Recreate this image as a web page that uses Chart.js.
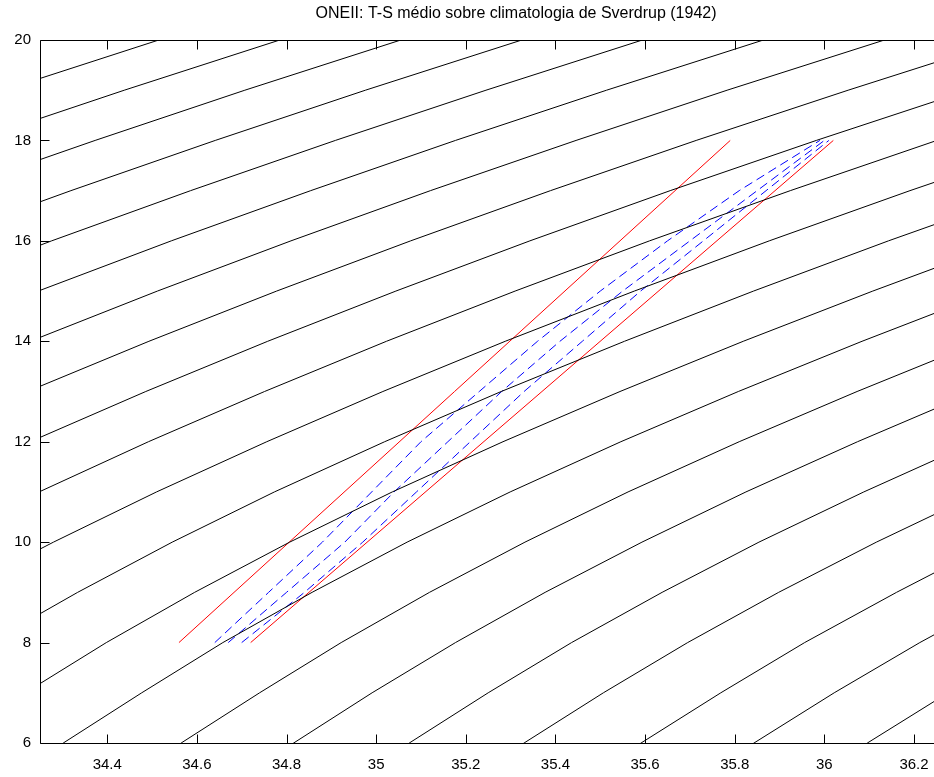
<!DOCTYPE html>
<html>
<head>
<meta charset="utf-8">
<title>ONEII T-S</title>
<script src="https://cdn.jsdelivr.net/npm/chart.js@4.4.1/dist/chart.umd.min.js"></script>
<style>
  html, body { margin: 0; padding: 0; background: #fff; overflow: hidden; }
  #wrap { width: 992px; height: 777px; }
</style>
</head>
<body>
<div id="wrap"><canvas id="ts" width="992" height="777"></canvas></div>
<script>
'use strict';

const titleText = 'ONEII: T-S médio sobre climatologia de Sverdrup (1942)';

// tick labels
const xTicks = [34.4, 34.6, 34.8, 35, 35.2, 35.4, 35.6, 35.8, 36, 36.2];
const yTicks = [6, 8, 10, 12, 14, 16, 18, 20];

// isopycnal contours (sigma-t 24.4 .. 28.4), salinity read at each temperature
const isoTemps = [5, 6, 7, 8, 9, 10, 11, 12, 13, 14, 15, 16, 17, 18, 19, 20, 21];
const iso244 = [null, null, null, null, null, null, null, null, null, null, null, null, null, null, 34.169, 34.515, 34.874];
const iso246 = [null, null, null, null, null, null, null, null, null, null, null, null, null, 34.104, 34.438, 34.785, 35.144];
const iso248 = [null, null, null, null, null, null, null, null, null, null, null, null, 34.051, 34.373, 34.707, 35.055, 35.415];
const iso250 = [null, null, null, null, null, null, null, null, null, null, null, 34.010, 34.319, 34.641, 34.976, 35.325, 35.686];
const iso252 = [null, null, null, null, null, null, null, null, null, null, 33.980, 34.276, 34.586, 34.909, 35.245, 35.594, 35.956];
const iso254 = [null, null, null, null, null, null, null, null, null, 33.962, 34.246, 34.543, 34.854, 35.177, 35.514, 35.864, 36.227];
const iso256 = [null, null, null, null, null, null, null, null, 33.957, 34.228, 34.512, 34.810, 35.121, 35.446, 35.783, 36.134, 36.498];
const iso258 = [null, null, null, null, null, null, null, 33.965, 34.222, 34.493, 34.778, 35.077, 35.389, 35.714, 36.053, 36.404, null];
const iso260 = [null, null, null, null, null, null, 33.985, 34.228, 34.486, 34.758, 35.044, 35.343, 35.656, 35.982, 36.322, null, null];
const iso262 = [null, null, null, null, null, 34.018, 34.248, 34.492, 34.751, 35.023, 35.310, 35.610, 35.924, 36.251, 36.591, null, null];
const iso264 = [null, null, null, null, 34.063, 34.280, 34.510, 34.756, 35.015, 35.288, 35.576, 35.877, 36.191, 36.519, null, null, null];
const iso266 = [null, null, 33.957, 34.137, 34.334, 34.545, 34.773, 35.019, 35.279, 35.554, 35.842, 36.143, 36.459, null, null, null, null];
const iso268 = [33.885, 34.043, 34.217, 34.398, 34.595, 34.807, 35.036, 35.283, 35.544, 35.819, 36.108, 36.410, null, null, null, null, null];
const iso270 = [34.144, 34.302, 34.477, 34.658, 34.857, 35.069, 35.299, 35.546, 35.808, 36.084, 36.374, null, null, null, null, null, null];
const iso272 = [34.405, 34.565, 34.740, 34.922, 35.119, 35.332, 35.562, 35.810, 36.073, 36.349, null, null, null, null, null, null, null];
const iso274 = [34.656, 34.816, 34.991, 35.177, 35.377, 35.593, 35.825, 36.074, 36.337, null, null, null, null, null, null, null, null];
const iso276 = [34.913, 35.074, 35.250, 35.436, 35.638, 35.854, 36.088, 36.337, null, null, null, null, null, null, null, null, null];
const iso278 = [35.168, 35.330, 35.507, 35.695, 35.898, 36.116, 36.351, null, null, null, null, null, null, null, null, null, null];
const iso280 = [35.429, 35.591, 35.769, 35.956, 36.161, 36.378, null, null, null, null, null, null, null, null, null, null, null];
const iso282 = [35.680, 35.843, 36.022, 36.213, 36.419, null, null, null, null, null, null, null, null, null, null, null, null];
const iso284 = [35.933, 36.096, 36.276, null, null, null, null, null, null, null, null, null, null, null, null, null, null];

// Sverdrup envelope (red)
const redTemps = [8, 18];
const redLeftSal = [34.56, 35.79];
const redRightSal = [34.72, 36.02];

// mean T-S and +/- std (blue dashed)
const blueTemps = [8, 9, 10, 11, 12, 13, 14, 15, 16, 17, 18];
const blueLeftSal = [34.64, 34.76, 34.88, 34.99, 35.10, 35.23, 35.36, 35.50, 35.65, 35.81, 35.99];
const blueMidSal = [34.67, 34.80, 34.93, 35.04, 35.16, 35.28, 35.41, 35.55, 35.70, 35.85, 36.00];
const blueRightSal = [34.70, 34.84, 34.97, 35.09, 35.21, 35.33, 35.46, 35.59, 35.73, 35.87, 36.01];

const fontFamily = "'Liberation Sans', Arial, Helvetica, sans-serif";

function toPoints(sal, temps) {
    return temps.map((t, i) => ({ x: sal[i], y: t })).filter(p => p.x !== null);
}

function line(sal, temps, color, dash) {
    return {
        data: toPoints(sal, temps),
        showLine: true,
        borderColor: color,
        borderWidth: 1,
        borderDash: dash || [],
        pointRadius: 0,
        tension: 0,
        fill: false
    };
}

const isoLines = [iso244, iso246, iso248, iso250, iso252, iso254, iso256, iso258, iso260, iso262, iso264,
    iso266, iso268, iso270, iso272, iso274, iso276, iso278, iso280, iso282, iso284];

const datasets = isoLines.map(s => line(s, isoTemps, '#000000'));
datasets.push(line(redLeftSal, redTemps, '#ff0000'));
datasets.push(line(redRightSal, redTemps, '#ff0000'));
datasets.push(line(blueLeftSal, blueTemps, '#0000ff', [9, 5]));
datasets.push(line(blueMidSal, blueTemps, '#0000ff', [9, 5]));
datasets.push(line(blueRightSal, blueTemps, '#0000ff', [9, 5]));

// matlab style box with inward ticks
const frame = {
    id: 'frame',
    afterDraw(chart) {
        const { ctx, chartArea: a, scales: { x, y } } = chart;
        const len = 9;
        const l = Math.round(a.left) + 0.5, r = Math.round(a.right) - 0.5;
        const t = Math.round(a.top) + 0.5, b = Math.round(a.bottom) + 0.5;
        ctx.save();
        ctx.strokeStyle = '#000';
        ctx.lineWidth = 1;
        ctx.beginPath();
        ctx.rect(l, t, r - l, b - t);
        xTicks.forEach(v => {
            const px = Math.round(x.getPixelForValue(v)) + 0.5;
            ctx.moveTo(px, b); ctx.lineTo(px, b - len);
            ctx.moveTo(px, t); ctx.lineTo(px, t + len);
        });
        yTicks.forEach(v => {
            const py = Math.round(y.getPixelForValue(v)) + 0.5;
            ctx.moveTo(l, py); ctx.lineTo(l + len, py);
            ctx.moveTo(r, py); ctx.lineTo(r - len, py);
        });
        ctx.stroke();
        ctx.restore();
    }
};

new Chart(document.getElementById('ts'), {
    type: 'scatter',
    data: { datasets },
    options: {
        responsive: false,
        animation: false,
        events: [],
        layout: { padding: 0 },
        plugins: {
            legend: { display: false },
            tooltip: { enabled: false },
            title: {
                display: true,
                text: titleText,
                color: '#000',
                fullSize: false,
                font: { family: fontFamily, size: 16, weight: 'normal' },
                padding: { top: 3.5, bottom: 17.3 }
            }
        },
        scales: {
            x: {
                type: 'linear',
                // axes run past the right edge of the picture
                min: 34.25,
                max: 36.374,
                grid: { display: false, drawTicks: false },
                border: { display: false },
                ticks: {
                    color: '#000',
                    font: { family: fontFamily, size: 15 },
                    padding: 13,
                    maxRotation: 0,
                    autoSkip: false,
                    callback: v => String(Math.round(v * 10) / 10)
                },
                afterBuildTicks: s => { s.ticks = xTicks.map(v => ({ value: v })); },
                afterFit: s => { s.height = 34; }
            },
            y: {
                type: 'linear',
                min: 6,
                max: 20,
                grid: { display: false, drawTicks: false },
                border: { display: false },
                ticks: {
                    color: '#000',
                    font: { family: fontFamily, size: 15 },
                    padding: 9,
                    autoSkip: false
                },
                afterBuildTicks: s => { s.ticks = yTicks.map(v => ({ value: v })); },
                afterFit: s => { s.width = 40; }
            }
        }
    },
    plugins: [frame]
});
</script>
</body>
</html>
